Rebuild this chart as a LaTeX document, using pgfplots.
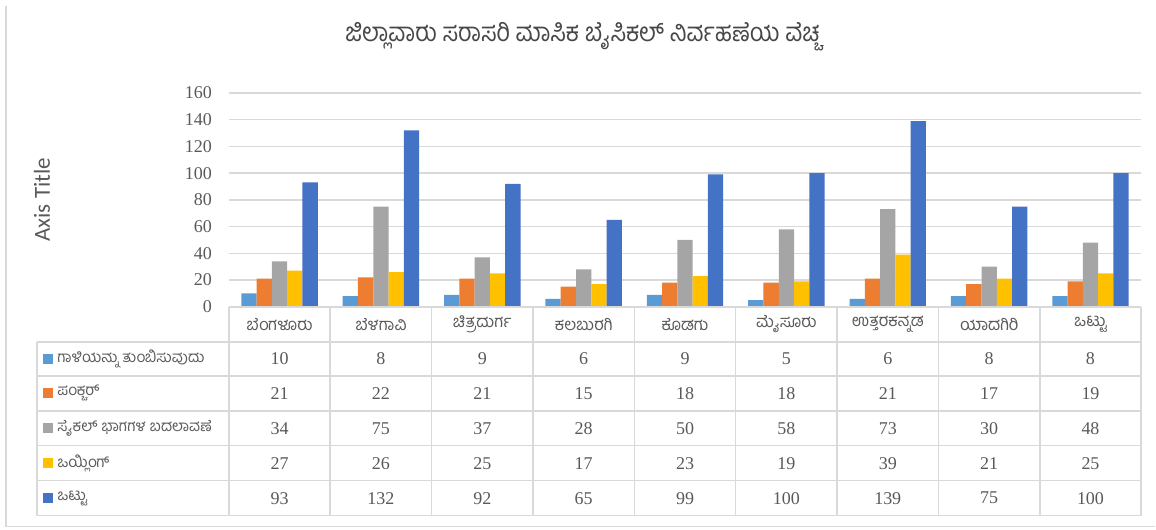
\documentclass[border=0pt]{standalone}
\usepackage{fontspec}
\setmainfont{Liberation Serif}
\newfontfamily\kn[Script=Kannada]{Hind Mysuru}
\newfontfamily\carl{Carlito}
\usepackage{pgfplots}
\usepackage{pgfplotstable}
\pgfplotsset{compat=1.18}

\definecolor{sAir}{HTML}{5B9BD5}
\definecolor{sPun}{HTML}{ED7D31}
\definecolor{sPar}{HTML}{A5A5A5}
\definecolor{sOil}{HTML}{FFC000}
\definecolor{sTot}{HTML}{4472C4}
\definecolor{txt}{HTML}{595959}
\definecolor{gridc}{HTML}{D9D9D9}

% one table per series, x = district index
\pgfplotstableread{
x v
0 10
1 8
2 9
3 6
4 9
5 5
6 6
7 8
8 8
}\airtab
\pgfplotstableread{
x v
0 21
1 22
2 21
3 15
4 18
5 18
6 21
7 17
8 19
}\puntab
\pgfplotstableread{
x v
0 34
1 75
2 37
3 28
4 50
5 58
6 73
7 30
8 48
}\partab
\pgfplotstableread{
x v
0 27
1 26
2 25
3 17
4 23
5 19
6 39
7 21
8 25
}\oiltab
\pgfplotstableread{
x v
0 93
1 132
2 92
3 65
4 99
5 100
6 139
7 75
8 100
}\tottab

\pgfplotsset{
  bars/.style={ybar, bar width=7.65pt, draw=none, fill=#1},
}
\newcommand\cellrow[2]{% table, pixel row centre
  \foreach \i in {0,...,8} {
    \pgfplotstablegetelem{\i}{v}\of{#1}
    \node[text=txt, font=\fontsize{9}{10}\selectfont] at ({229+101.44*(\i+0.5)},#2) {\pgfplotsretval};
  }}

\begin{document}
\begin{tikzpicture}
\begin{axis}[
  at={(0,0)}, anchor=south west, scale only axis,
  width=456.5pt, height=107pt,
  xmin=-0.5, xmax=8.5, ymin=0, ymax=160,
  ytick={0,20,...,160}, xtick={0,...,8},
  xticklabels={ಬೆಂಗಳೂರು, ಬೆಳಗಾವಿ, ಚಿತ್ರದುರ್ಗ, ಕಲಬುರಗಿ, ಕೊಡಗು, ಮೈಸೂರು, ಉತ್ತರಕನ್ನಡ, ಯಾದಗಿರಿ, ಒಟ್ಟು},
  major tick length=0, axis line style={draw=none},
  ymajorgrids, grid style={gridc, line width=0.8pt},
  clip=false,
  /pgf/number format/assume math mode=true,
  tick label style={text=txt, font=\fontsize{9}{10}\selectfont},
  xticklabel style={font=\kn\fontsize{8.3}{10}\selectfont, anchor=center, yshift=-8.75pt},
  yticklabel style={xshift=-5pt},
]
\addplot[bars=sAir, bar shift=-15.3pt] table[x=x, y=v] {\airtab};
\addplot[bars=sPun, bar shift=-7.65pt] table[x=x, y=v] {\puntab};
\addplot[bars=sPar, bar shift=0pt] table[x=x, y=v] {\partab};
\addplot[bars=sOil, bar shift=7.65pt] table[x=x, y=v] {\oiltab};
\addplot[bars=sTot, bar shift=15.3pt] table[x=x, y=v] {\tottab};
\end{axis}

% pixel grid of the reference: (229,307) is the axis origin
\begin{scope}[x=0.5pt, y=-0.5pt, shift={(-114.5pt,153.5pt)}]
  \path (0,0) rectangle (1156,530);
  \draw[gridc, line width=0.8pt] (6,6) -- (6,527) -- (1156,527);
  \draw[gridc, line width=0.8pt] (229,307) -- (1142,307);
  \foreach \yy in {342,376,411,446,481,516}
    \draw[gridc, line width=0.8pt] (37,\yy) -- (1142,\yy);
  \draw[gridc, line width=0.8pt] (37,342) -- (37,516);
  \foreach \k in {0,...,9}
    \draw[gridc, line width=0.8pt] ({229+101.44*\k},307) -- ({229+101.44*\k},516);
  % data table values
  \cellrow{\airtab}{359}
  \cellrow{\puntab}{393.5}
  \cellrow{\partab}{428.5}
  \cellrow{\oiltab}{463.5}
  \cellrow{\tottab}{498.5}
  \foreach \c/\col/\lab in {359/sAir/{ಗಾಳಿಯನ್ನು ತುಂಬಿಸುವುದು}, 393.5/sPun/{ಪಂಕ್ಚರ್},
      428.5/sPar/{ಸೈಕಲ್ ಭಾಗಗಳ ಬದಲಾವಣೆ}, 463.5/sOil/{ಒಯ್ಲಿಂಗ್}, 498.5/sTot/{ಒಟ್ಟು}} {
    \fill[\col] (43,\c-5) rectangle (53,\c+5);
    \node[anchor=west, inner sep=0pt, text=txt, font=\kn\fontsize{7.6}{9}\selectfont] at (57,\c) {\lab};
  }
  \node[text=txt!80!black, xscale=0.9, font=\kn\fontsize{13}{15}\selectfont] at (583,37)
    {ಜಿಲ್ಲಾವಾರು ಸರಾಸರಿ ಮಾಸಿಕ ಬೈಸಿಕಲ್ ನಿರ್ವಹಣೆಯ ವೆಚ್ಚ};
  \node[rotate=90, text=txt, font=\carl\fontsize{11.5}{13}\selectfont] at (42,200) {Axis Title};
\end{scope}
\end{tikzpicture}
\end{document}
